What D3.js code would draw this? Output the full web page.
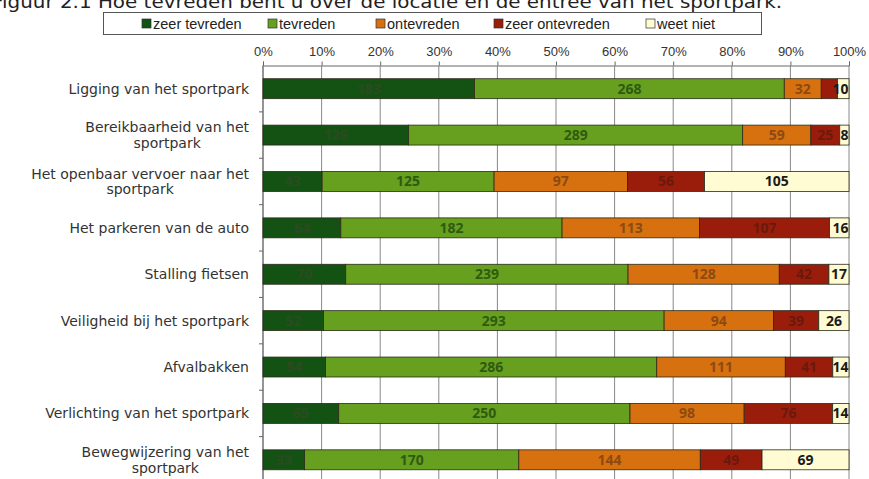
<!DOCTYPE html>
<html lang="nl">
<head>
    <meta charset="utf8">
    <title>Tevredenheid locatie en entree sportpark</title>
    <script src="https://cdn.jsdelivr.net/npm/d3@7"></script>
    <style>
        body { margin: 0; background: #fff; }
        svg { display: block; }
    </style>
</head>
<body>
    <svg id="chart" width="869" height="479"></svg>
    <script>
        const categories = [
            ["Ligging van het sportpark"],
            ["Bereikbaarheid van het", "sportpark"],
            ["Het openbaar vervoer naar het", "sportpark"],
            ["Het parkeren van de auto"],
            ["Stalling fietsen"],
            ["Veiligheid bij het sportpark"],
            ["Afvalbakken"],
            ["Verlichting van het sportpark"],
            ["Bewegwijzering van het", "sportpark"]
        ];
        const seriesNames = ["zeer tevreden", "tevreden", "ontevreden", "zeer ontevreden", "weet niet"];
        const zeerTevreden   = [183, 126, 43, 64, 70, 52, 54, 65, 33];
        const tevreden       = [268, 289, 125, 182, 239, 293, 286, 250, 170];
        const ontevreden     = [32, 59, 97, 113, 128, 94, 111, 98, 144];
        const zeerOntevreden = [14, 25, 56, 107, 42, 39, 41, 76, 49];
        const weetNiet       = [10, 8, 105, 16, 17, 26, 14, 14, 69];
        const tickLabels = ["0%", "10%", "20%", "30%", "40%", "50%", "60%", "70%", "80%", "90%", "100%"];

        const fills = ["#145214", "#66a01e", "#d7700f", "#9a1d0c", "#fffbd2"];
        const labelColors = ["#2c4a22", "#2f5a12", "#8c4a12", "#6a1a0c", "#1a1a1a"];

        const svg = d3.select("#chart");
        const seriesValues = [zeerTevreden, tevreden, ontevreden, zeerOntevreden, weetNiet];

        const rows = categories.map((c, i) => {
            const vals = seriesValues.map(s => s[i]);
            const total = d3.sum(vals);
            let acc = 0;
            return vals.map((v, k) => {
                const seg = {row: i, k: k, value: v, x0: acc / total, x1: (acc + v) / total};
                acc += v;
                return seg;
            });
        });

        const x = d3.scaleLinear().domain([0, 1]).range([263, 849]);
        const y = d3.scaleBand().domain(d3.range(categories.length)).range([65.5, 483]).paddingInner(0.57).paddingOuter(0.285);

        // title (cut off at the top in the scan)
        svg.append("text")
           .attr("x", -8).attr("y", 8)
           .attr("font-family", "DejaVu Sans, sans-serif")
           .attr("font-size", 18)
           .attr("textLength", 790)
           .attr("lengthAdjust", "spacingAndGlyphs")
           .attr("fill", "#222")
           .text("Figuur 2.1 Hoe tevreden bent u over de locatie en de entree van het sportpark.");

        // legend
        svg.append("rect")
           .attr("x", 103.5).attr("y", 12.5).attr("width", 658).attr("height", 22)
           .attr("fill", "#fff").attr("stroke", "#555");
        const legendX = [142, 268, 376, 494, 646];
        seriesNames.forEach((name, k) => {
            const g = svg.append("g").attr("transform", `translate(${legendX[k]},23.5)`);
            g.append("rect").attr("x", 0).attr("y", -4.5).attr("width", 9).attr("height", 9)
             .attr("fill", fills[k]).attr("stroke", "#333").attr("stroke-width", 0.7);
            g.append("text").attr("x", 11).attr("y", 5)
             .attr("font-family", "Liberation Sans Narrow, Arial Narrow, sans-serif")
             .attr("font-size", 14.5).attr("fill", "#222").text(name);
        });

        // top axis with percentage ticks
        const ticks = d3.range(0, 1.0001, 0.1);
        const xAxis = d3.axisTop(x).tickValues(ticks).tickSize(4)
                        .tickFormat((d, i) => tickLabels[i]);
        const ax = svg.append("g").attr("transform", "translate(0,65.5)").call(xAxis);
        ax.select(".domain").attr("stroke", "#666");
        ax.selectAll(".tick line").attr("stroke", "#666");
        ax.selectAll(".tick text")
          .attr("y", -10)
          .attr("font-family", "Liberation Sans Narrow, Arial Narrow, sans-serif")
          .attr("font-size", 13).attr("fill", "#333");

        // vertical gridlines
        svg.append("g").selectAll("line")
           .data(ticks).enter().append("line")
           .attr("x1", d => x(d)).attr("x2", d => x(d))
           .attr("y1", 65.5).attr("y2", 479)
           .attr("stroke", "#888").attr("stroke-width", 1);

        // left axis with category separators
        svg.append("line").attr("x1", 263).attr("x2", 263).attr("y1", 65.5).attr("y2", 479).attr("stroke", "#666");
        svg.append("g").selectAll("line")
           .data(d3.range(1, categories.length)).enter().append("line")
           .attr("x1", 259).attr("x2", 263)
           .attr("y1", d => y(d) - y.step() * y.paddingInner() / 2)
           .attr("y2", d => y(d) - y.step() * y.paddingInner() / 2)
           .attr("stroke", "#666");

        // bars
        const segs = rows.flat();
        svg.append("g").selectAll("rect")
           .data(segs).enter().append("rect")
           .attr("x", d => x(d.x0))
           .attr("y", d => y(d.row))
           .attr("width", d => x(d.x1) - x(d.x0))
           .attr("height", y.bandwidth())
           .attr("fill", d => fills[d.k])
           .attr("stroke", "#2a2a1a").attr("stroke-width", 0.8);

        const narrow = d => x(d.x1) - x(d.x0) < 20;
        svg.append("g").selectAll("text")
           .data(segs.filter(d => d.k === 4 || !narrow(d))).enter().append("text")
           .attr("x", d => d.k === 4 && narrow(d) ? x(d.x1) - 0.5 : (x(d.x0) + x(d.x1)) / 2)
           .attr("y", d => y(d.row) + y.bandwidth() / 2 + 5)
           .attr("text-anchor", d => d.k === 4 && narrow(d) ? "end" : "middle")
           .attr("font-family", "Open Sans, sans-serif")
           .attr("font-weight", "bold")
           .attr("font-size", 14)
           .attr("fill", d => labelColors[d.k])
           .text(d => d.value);

        // category labels
        categories.forEach((lines, i) => {
            const cy = y(i) + y.bandwidth() / 2;
            const t = svg.append("text")
               .attr("font-family", "DejaVu Sans, sans-serif")
               .attr("font-size", 14)
               .attr("fill", "#333")
               .attr("text-anchor", "middle");
            lines.forEach((ln, j) => {
                t.append("tspan").attr("y", cy + 5 + (j - (lines.length - 1) / 2) * 15.5).text(ln);
            });
            let maxW = 0;
            t.selectAll("tspan").each(function () { maxW = Math.max(maxW, this.getComputedTextLength()); });
            t.selectAll("tspan").attr("x", 249 - maxW / 2);
        });
    </script>
</body>
</html>
